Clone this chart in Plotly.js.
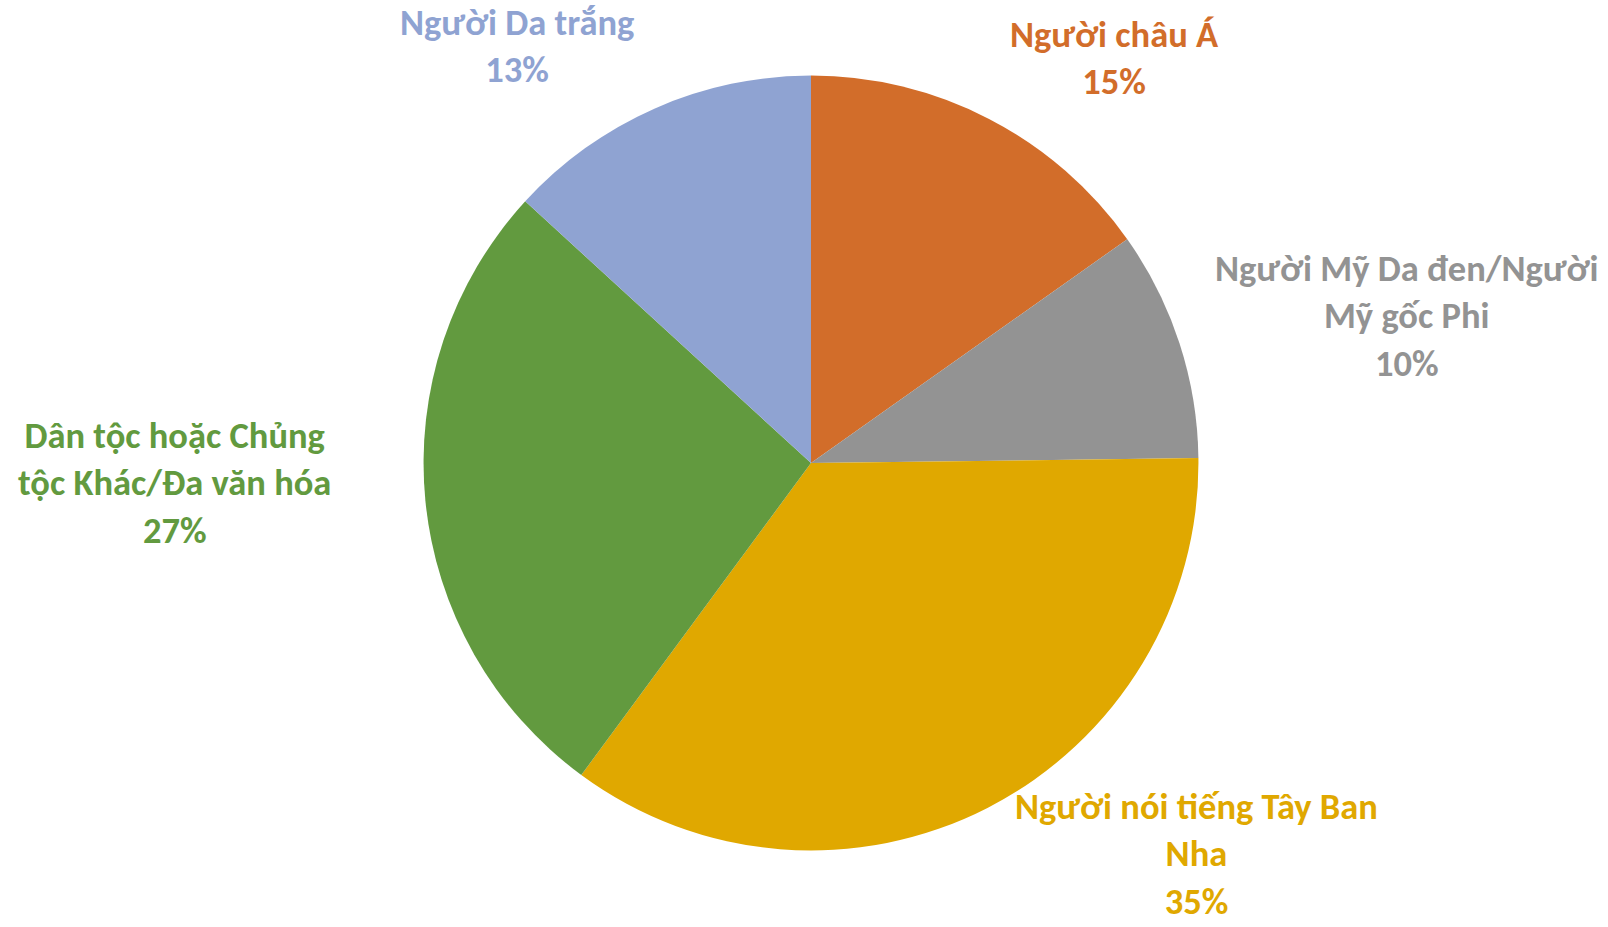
<!DOCTYPE html>
<html>
<head>
<meta charset="utf-8">
<script src="https://cdn.plot.ly/plotly-3.0.1.min.js"></script>
<style>
html, body { margin: 0; padding: 0; background: #ffffff; }
#chart { width: 1608px; height: 927px; }
</style>
</head>
<body>
<div id="chart"></div>
<script>
// Data (clockwise from 12 o'clock)
const categories = [
  "Người châu Á",
  "Người Mỹ Da đen/Người Mỹ gốc Phi",
  "Người nói tiếng Tây Ban Nha",
  "Dân tộc hoặc Chủng tộc Khác/Đa văn hóa",
  "Người Da trắng"
];
const values = [15.2, 9.6, 35.3, 26.7, 13.2];
const percentLabels = ["15%", "10%", "35%", "27%", "13%"];
// Label text as wrapped in the reference
const displayLabels = [
  "Người châu Á",
  "Người Mỹ Da đen/Người<br>Mỹ gốc Phi",
  "Người nói tiếng Tây Ban<br>Nha",
  "Dân tộc hoặc Chủng<br>tộc Khác/Đa văn hóa",
  "Người Da trắng"
];
const colors = ["#D26D2A", "#939393", "#E0A800", "#629A3F", "#8FA3D2"];

// Label block centres (paper coordinates)
const labelPos = [
  {x: 0.6934, y: 0.9374},
  {x: 0.8745, y: 0.6591},
  {x: 0.7438, y: 0.0790},
  {x: 0.1085, y: 0.4790},
  {x: 0.3215, y: 0.9508}
];

const annotations = categories.map((c, i) => ({
  xref: "paper", yref: "paper",
  x: labelPos[i].x, y: labelPos[i].y,
  xanchor: "center", yanchor: "middle",
  align: "center",
  showarrow: false,
  borderpad: 0,
  text: "<b>" + displayLabels[i] + "<br>" + percentLabels[i] + "</b>",
  font: {family: "Carlito, Calibri, Lato, sans-serif", size: 36.5, color: colors[i]}
}));

const trace = {
  type: "pie",
  labels: categories,
  values: values,
  sort: false,
  direction: "clockwise",
  rotation: 0,
  textinfo: "none",
  hoverinfo: "none",
  marker: {colors: colors, line: {width: 0}},
  domain: {x: [0.2634, 0.7453], y: [0.0825, 0.9186]},
  showlegend: false
};

const layout = {
  width: 1608,
  height: 927,
  margin: {l: 0, r: 0, t: 0, b: 0},
  paper_bgcolor: "#ffffff",
  plot_bgcolor: "#ffffff",
  showlegend: false,
  annotations: annotations
};

Plotly.newPlot("chart", [trace], layout, {displayModeBar: false, staticPlot: true});
</script>
</body>
</html>
